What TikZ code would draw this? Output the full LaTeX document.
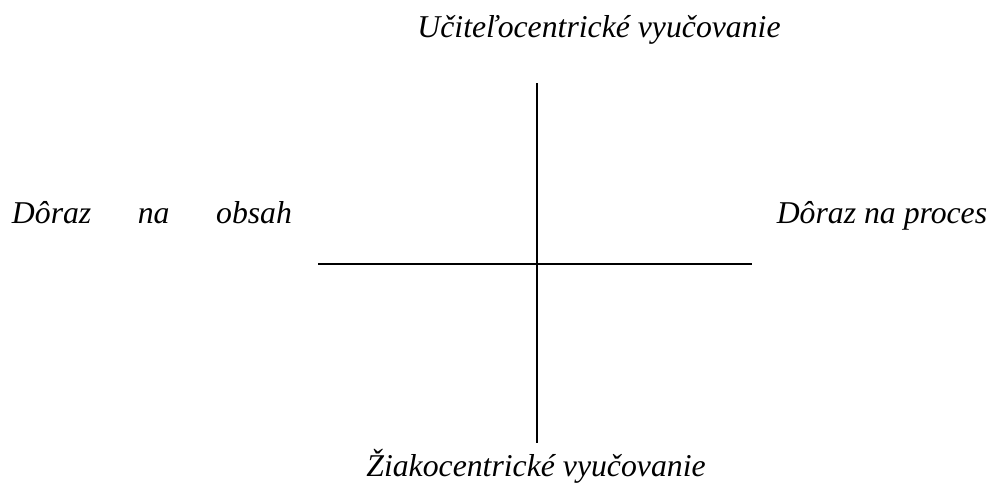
\documentclass[tikz,border=0pt]{standalone}
\usepackage{fontspec}
\setmainfont{Liberation Serif}
\usepackage{tikz}
\usetikzlibrary{positioning}

\begin{document}
\begin{tikzpicture}[
x=0.75pt,y=-0.75pt,
label/.style={
font=\fontsize{23.8}{28}\selectfont\itshape,
inner sep=0pt,
anchor=base
},
axis/.style={thick}
]
\useasboundingbox (0,0) rectangle (993,483);

\coordinate (north) at (537,83);
\coordinate (south) at (537,443);
\coordinate (west) at (318,264);
\coordinate (east) at (752,264);

\node[label] (teacher) at (599,37) {Učiteľocentrické vyučovanie};
\node[label] (student) at (536,476) {Žiakocentrické vyučovanie};
\node[label] (content) at (152,223) {\makebox[210pt][s]{Dôraz\hfill na\hfill obsah}};
\node[label] (process) at (882,223) {Dôraz na proces};

\draw[axis] (north) -- (south);
\draw[axis] (west) -- (east);

\end{tikzpicture}
\end{document}
